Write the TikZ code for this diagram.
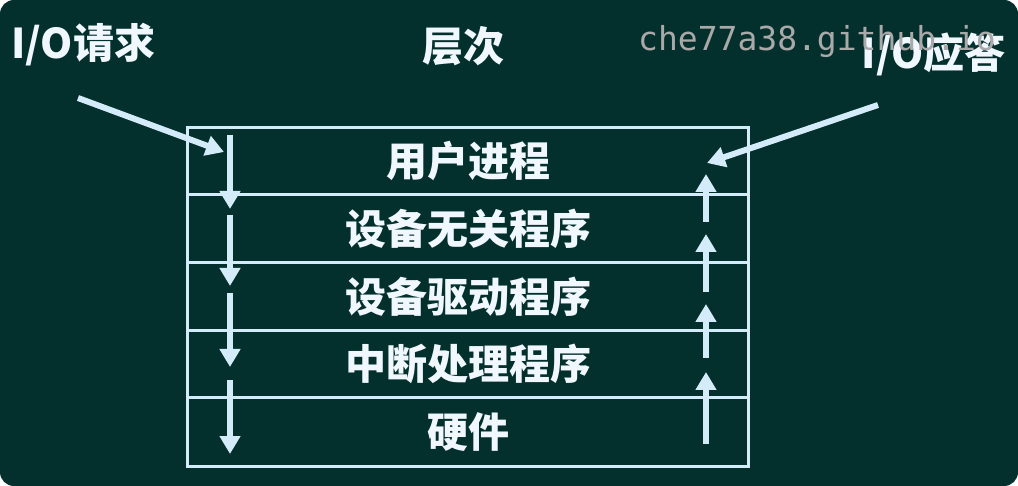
\documentclass[tikz,border=0pt]{standalone}
\usepackage{fontspec}
\newfontfamily\cjk{Noto Sans CJK SC}
\newfontfamily\wmfont{DejaVu Sans Mono}
\usetikzlibrary{arrows.meta}
\definecolor{bgteal}{HTML}{03302C}
\definecolor{linecol}{HTML}{D4ECFA}
\definecolor{txtcol}{HTML}{F0F7FF}
\definecolor{wmgray}{HTML}{A9A9A9}
\tikzset{
  rowbox/.style={draw=linecol, line width=3.2pt, minimum width=561pt, anchor=north west, inner sep=0pt,
    text=txtcol, font=\cjk\bfseries\fontsize{41}{43}\selectfont},
  lbl/.style={text=txtcol, font=\cjk\bfseries\fontsize{41}{43}\selectfont, inner sep=0pt},
  flow/.style={draw=linecol, line width=6pt, -{Triangle[width=20pt,length=18pt]}},
}
\begin{document}
\begin{tikzpicture}[x=1pt,y=-1pt]
\useasboundingbox (0,0) rectangle (1018,486);
\fill[white] (0,0) rectangle (1018,486);
\fill[bgteal, rounded corners=14pt] (0,0) rectangle (1018,486);
% rows
\node[rowbox, minimum height=67pt] (r1) at (186,126) {用户进程};
\node[rowbox, minimum height=68pt] (r2) at (186,193) {设备无关程序};
\node[rowbox, minimum height=68pt] (r3) at (186,261) {设备驱动程序};
\node[rowbox, minimum height=67pt] (r4) at (186,329) {中断处理程序};
\node[rowbox, minimum height=69pt] (r5) at (186,396) {硬件};
% titles
\node[lbl, anchor=west] (req) at (11,45) {I/O请求};
\node[lbl] (lay) at (463,46) {层次};
\node[lbl, anchor=east] (ans) at (1006,54) {I/O应答};
\node[font=\wmfont\fontsize{33}{35}\selectfont, text=wmgray, anchor=west, inner sep=0pt] (wm) at (638,42) {che77a38.github.io};
% arrow coordinates
\coordinate (ia) at (78,98);   \coordinate (ib) at (224,152);
\coordinate (oa) at (878,105); \coordinate (ob) at (707,163);
\coordinate (d1a) at (230,135); \coordinate (d1b) at (230,209);
\coordinate (d2a) at (230,215); \coordinate (d2b) at (230,286);
\coordinate (d3a) at (230,293); \coordinate (d3b) at (230,367);
\coordinate (d4a) at (230,380); \coordinate (d4b) at (230,454);
\coordinate (u1a) at (706,222); \coordinate (u1b) at (706,174);
\coordinate (u2a) at (706,292); \coordinate (u2b) at (706,234);
\coordinate (u3a) at (706,358); \coordinate (u3b) at (706,304);
\coordinate (u4a) at (706,444); \coordinate (u4b) at (706,372);
\draw[flow] (ia) -- (ib);
\draw[flow] (oa) -- (ob);
\draw[flow] (d1a) -- (d1b);
\draw[flow] (d2a) -- (d2b);
\draw[flow] (d3a) -- (d3b);
\draw[flow] (d4a) -- (d4b);
\draw[flow] (u1a) -- (u1b);
\draw[flow] (u2a) -- (u2b);
\draw[flow] (u3a) -- (u3b);
\draw[flow] (u4a) -- (u4b);
\end{tikzpicture}
\end{document}
